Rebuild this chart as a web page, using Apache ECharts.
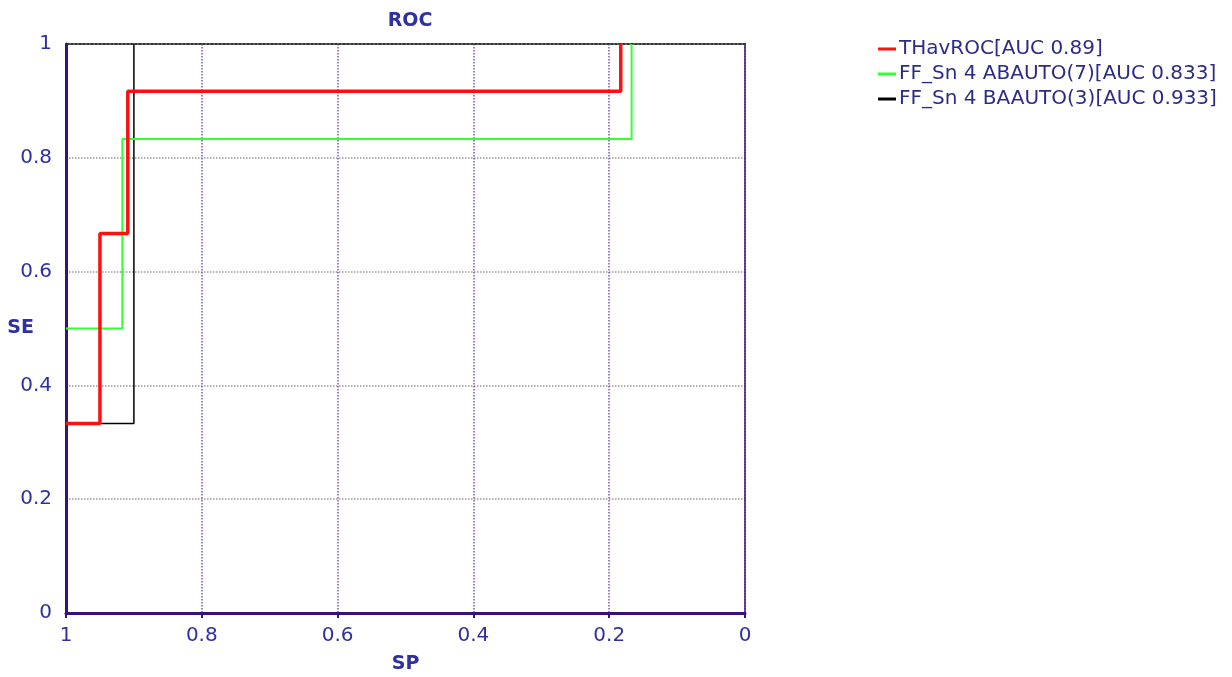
<!DOCTYPE html>
<html>
<head>
<meta charset="utf-8">
<script src="https://cdn.jsdelivr.net/npm/echarts@6/dist/echarts.min.js"></script>
<style>
  html, body { margin: 0; padding: 0; background: #fff; }
  #chart { width: 1232px; height: 677px; }
</style>
</head>
<body>
<div id="chart"></div>
<script>
// ROC staircase vertices: [specificity (SP), sensitivity (SE)]
const seriesNames = [
  'THavROC[AUC 0.89]',
  'FF_Sn 4 ABAUTO(7)[AUC 0.833]',
  'FF_Sn 4 BAAUTO(3)[AUC 0.933]'
];
const rocTHav = [[1, 0.333], [0.95, 0.333], [0.95, 0.667], [0.909, 0.667], [0.909, 0.917], [0.183, 0.917], [0.183, 1]];
const rocAB7 = [[1, 0.5], [0.917, 0.5], [0.917, 0.833], [0.167, 0.833], [0.167, 1]];
const rocBA3 = [[1, 0.333], [0.9, 0.333], [0.9, 1]];
const seriesColors = ['#ff1010', '#33ff33', '#000000'];
const seriesWidths = [3.5, 2, 1.5];

const labelColor = '#3030a0';
const legendColor = '#2c2c86';
const axisColor = '#3a1080';
const font = '"DejaVu Sans", sans-serif';

const chart = echarts.init(document.getElementById('chart'));

const rocData = [rocTHav, rocAB7, rocBA3];

chart.setOption({
  animation: false,
  backgroundColor: '#ffffff',
  title: {
    text: 'ROC',
    left: 405,
    top: 7,
    textAlign: 'center',
    textStyle: { color: labelColor, fontSize: 19, fontWeight: 'bold', fontFamily: font }
  },
  legend: {
    orient: 'vertical',
    left: 873,
    top: 34,
    itemGap: 5,
    itemWidth: 18,
    itemHeight: 3,
    icon: 'rect',
    textStyle: { color: legendColor, fontSize: 20, fontFamily: font, padding: [0, 0, 0, -2] },
    data: seriesNames.map((n, i) => ({ name: n, itemStyle: { color: seriesColors[i] } }))
  },
  grid: { left: 66, right: 487, top: 44, bottom: 64, outerBoundsMode: 'none', containLabel: false },
  xAxis: [
    {
      type: 'value',
      inverse: true,
      min: 0, max: 1, interval: 0.2,
      name: 'SP',
      nameLocation: 'middle',
      nameGap: 42,
      nameMoveOverlap: false,
      nameTextStyle: { color: labelColor, fontSize: 19, fontWeight: 'bold', fontFamily: font },
      axisLine: { show: true, onZero: false, lineStyle: { color: axisColor, width: 3 } },
      axisTick: { show: true, length: 5, lineStyle: { color: axisColor, width: 2 } },
      axisLabel: { color: labelColor, fontSize: 20, fontFamily: font, margin: 13 },
      splitLine: { show: true, lineStyle: { color: '#7a55c8', type: 'dotted', width: 1.5 } }
    },
    {
      type: 'value',
      inverse: true,
      position: 'top',
      min: 0, max: 1, interval: 0.2,
      axisLine: { show: true, onZero: false, lineStyle: { color: '#333333', type: [2, 2], width: 2 } },
      axisTick: { show: false },
      axisLabel: { show: false },
      splitLine: { show: false }
    }
  ],
  yAxis: [
    {
      type: 'value',
      position: 'left',
      min: 0, max: 1, interval: 0.2,
      name: 'SE',
      nameLocation: 'middle',
      nameRotate: 0,
      nameGap: 32,
      nameMoveOverlap: false,
      nameTextStyle: { color: labelColor, fontSize: 19, fontWeight: 'bold', fontFamily: font },
      axisLine: { show: true, onZero: false, lineStyle: { color: axisColor, width: 3 } },
      axisTick: { show: false },
      axisLabel: { color: labelColor, fontSize: 20, fontFamily: font, margin: 14 },
      splitLine: { show: true, lineStyle: { color: '#999999', type: 'dotted', width: 1.5 } }
    },
    {
      type: 'value',
      position: 'right',
      min: 0, max: 1, interval: 0.2,
      axisLine: { show: true, onZero: false, lineStyle: { color: axisColor, width: 1.5 } },
      axisTick: { show: false },
      axisLabel: { show: false },
      splitLine: { show: false }
    }
  ],
  series: seriesNames.map((n, i) => ({
    name: n,
    type: 'line',
    data: rocData[i],
    symbol: 'none',
    showSymbol: false,
    z: 10 - i,
    color: seriesColors[i],
    lineStyle: { color: seriesColors[i], width: seriesWidths[i] }
  }))
});
</script>
</body>
</html>
